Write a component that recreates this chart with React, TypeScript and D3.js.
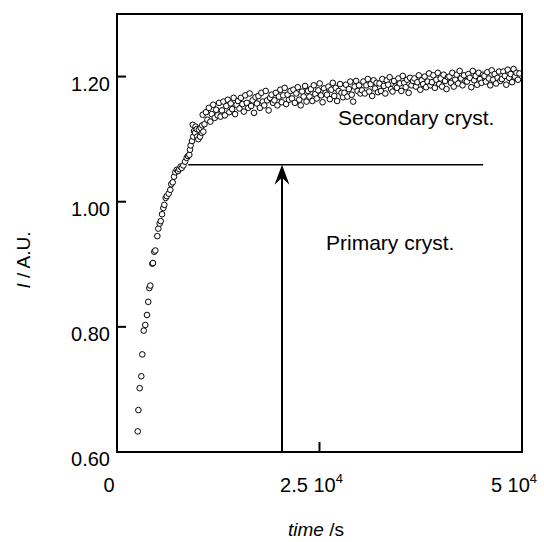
import React from "react";
import * as d3 from "d3";

// Intensity I (A.U.) against crystallisation time (s)

// Primary rise: [time s, intensity]
const rise: [number, number][] = [
  [2560, 0.633], [2640, 0.667], [2800, 0.702], [3000, 0.721], [3120, 0.756], [3300, 0.794],
  [3490, 0.803], [3700, 0.819], [3860, 0.84], [3990, 0.862], [4110, 0.866], [4360, 0.901],
  [4440, 0.902], [4600, 0.92], [4730, 0.922], [4980, 0.945], [5100, 0.957], [5270, 0.965],
  [5400, 0.969], [5560, 0.98], [5720, 0.99], [5840, 0.995], [6010, 1.006], [6140, 1.009],
  [6380, 1.013], [6580, 1.019], [6700, 1.028], [6880, 1.031], [7040, 1.04], [7200, 1.047],
  [7370, 1.051], [7530, 1.049], [7690, 1.052], [7850, 1.056], [7990, 1.054], [8190, 1.058],
  [8400, 1.064], [8600, 1.07], [8760, 1.073], [8930, 1.075], [9010, 1.083], [9090, 1.09],
  [9260, 1.097], [9350, 1.123], [9420, 1.104], [9520, 1.113], [9630, 1.11], [9700, 1.12],
  [9840, 1.116], [9900, 1.104], [10040, 1.1], [10100, 1.115], [10250, 1.104], [10330, 1.118],
  [10460, 1.11], [10520, 1.122], [10580, 1.139], [10660, 1.112],
];

// Secondary (slow) stage sampling times, s
const plateauTimes = [
  10800, 10980, 11160, 11340, 11520, 11700, 11880, 12060, 12240, 12420, 12600, 12780,
  12960, 13140, 13320, 13500, 13680, 13860, 14040, 14220, 14400, 14580, 14760, 14940,
  15120, 15300, 15480, 15660, 15840, 16020, 16200, 16380, 16560, 16740, 16920, 17100,
  17280, 17460, 17640, 17820, 18000, 18180, 18360, 18540, 18720, 18900, 19080, 19260,
  19440, 19620, 19800, 19980, 20160, 20340, 20520, 20700, 20880, 21060, 21240, 21420,
  21600, 21780, 21960, 22140, 22320, 22500, 22680, 22860, 23040, 23220, 23400, 23580,
  23760, 23940, 24120, 24300, 24480, 24660, 24840, 25020, 25200, 25380, 25560, 25740,
  25920, 26100, 26280, 26460, 26640, 26820, 27000, 27180, 27360, 27540, 27720, 27900,
  28080, 28260, 28440, 28620, 28800, 28980, 29160, 29340, 29520, 29700, 29880, 30060,
  30240, 30420, 30600, 30780, 30960, 31140, 31320, 31500, 31680, 31860, 32040, 32220,
  32400, 32580, 32760, 32940, 33120, 33300, 33480, 33660, 33840, 34020, 34200, 34380,
  34560, 34740, 34920, 35100, 35280, 35460, 35640, 35820, 36000, 36180, 36360, 36540,
  36720, 36900, 37080, 37260, 37440, 37620, 37800, 37980, 38160, 38340, 38520, 38700,
  38880, 39060, 39240, 39420, 39600, 39780, 39960, 40140, 40320, 40500, 40680, 40860,
  41040, 41220, 41400, 41580, 41760, 41940, 42120, 42300, 42480, 42660, 42840, 43020,
  43200, 43380, 43560, 43740, 43920, 44100, 44280, 44460, 44640, 44820, 45000, 45180,
  45360, 45540, 45720, 45900, 46080, 46260, 46440, 46620, 46800, 46980, 47160, 47340,
  47520, 47700, 47880, 48060, 48240, 48420, 48600, 48780, 48960, 49140, 49320, 49500,
  49680,
];

// Secondary (slow) stage intensities, A.U.
const plateauIntensity = [
  1.124, 1.143, 1.131, 1.15, 1.128, 1.14, 1.155, 1.134, 1.147, 1.138, 1.158, 1.136,
  1.146, 1.16, 1.138, 1.153, 1.163, 1.143, 1.157, 1.148, 1.166, 1.14, 1.155, 1.161,
  1.149, 1.166, 1.156, 1.144, 1.17, 1.158, 1.15, 1.173, 1.153, 1.162, 1.142, 1.167,
  1.157, 1.169, 1.15, 1.174, 1.16, 1.154, 1.177, 1.162, 1.146, 1.166, 1.171, 1.158,
  1.162, 1.174, 1.154, 1.168, 1.179, 1.159, 1.17, 1.182, 1.156, 1.171, 1.163, 1.177,
  1.165, 1.179, 1.158, 1.173, 1.183, 1.163, 1.154, 1.176, 1.168, 1.185, 1.16, 1.177,
  1.168, 1.18, 1.161, 1.186, 1.172, 1.165, 1.178, 1.189, 1.17, 1.159, 1.181, 1.174,
  1.171, 1.184, 1.164, 1.179, 1.19, 1.169, 1.182, 1.161, 1.177, 1.188, 1.174, 1.167,
  1.174, 1.187, 1.168, 1.18, 1.192, 1.171, 1.16, 1.184, 1.193, 1.177, 1.186, 1.173,
  1.178, 1.192, 1.173, 1.186, 1.196, 1.176, 1.188, 1.169, 1.194, 1.181, 1.19, 1.175,
  1.189, 1.177, 1.196, 1.185, 1.173, 1.194, 1.187, 1.199, 1.18, 1.176, 1.193, 1.184,
  1.182, 1.197, 1.189, 1.177, 1.201, 1.19, 1.183, 1.195, 1.174, 1.198, 1.186, 1.193,
  1.197, 1.184, 1.191, 1.202, 1.179, 1.194, 1.188, 1.2, 1.183, 1.192, 1.205, 1.186,
  1.191, 1.202, 1.182, 1.195, 1.206, 1.188, 1.197, 1.184, 1.203, 1.193, 1.18, 1.199,
  1.2, 1.19, 1.206, 1.184, 1.195, 1.203, 1.189, 1.209, 1.197, 1.186, 1.202, 1.193,
  1.192, 1.204, 1.198, 1.183, 1.209, 1.194, 1.201, 1.187, 1.206, 1.196, 1.19, 1.203,
  1.201, 1.192, 1.207, 1.197, 1.186, 1.21, 1.195, 1.204, 1.189, 1.198, 1.208, 1.193,
  1.196, 1.208, 1.201, 1.187, 1.211, 1.198, 1.204, 1.191, 1.212, 1.2, 1.206, 1.195,
  1.205,
];

// Axis ticks
const xTicks = [0, 25000, 50000];
const xTickMantissa = ["0", "2.5", "5"];
const yTicks = [0.6, 0.8, 1.0, 1.2];

// End of primary crystallisation: level line and arrow
const primaryLevel = 1.059;
const levelStart = 8800;
const levelEnd = 45200;
const arrowTime = 20370;

const W = 544;
const H = 542;
const frame = { left: 117, top: 14, right: 522, bottom: 452 };
const FONT = "'Liberation Sans', Arial, Helvetica, sans-serif";

export default function App() {
  const x = d3.scaleLinear().domain([0, 50000]).range([frame.left, frame.right]);
  const y = d3.scaleLinear().domain([0.6, 1.3]).range([frame.bottom, frame.top]);

  const points: [number, number][] = [
    ...rise,
    ...(d3.zip(plateauTimes, plateauIntensity) as [number, number][]),
  ];

  const ax = x(arrowTime);
  const ay = y(primaryLevel);
  const head = `M${ax},${ay} L${ax - 7.5},${ay + 20} L${ax},${ay + 13} L${ax + 7.5},${ay + 20} Z`;

  return (
    <svg
      width={W}
      height={H}
      style={{ position: "absolute", left: 0, top: 0, display: "block", background: "#fff" }}
      fontFamily={FONT}
    >
      <rect x={0} y={0} width={W} height={H} fill="#fff" />

      {/* data */}
      <g fill="#fff" stroke="#000" strokeWidth={1}>
        {points.map(([t, v], i) => (
          <circle key={i} cx={x(t)} cy={y(v)} r={2.8} />
        ))}
      </g>

      {/* level of primary crystallisation and arrow */}
      <line
        x1={x(levelStart)}
        x2={x(levelEnd)}
        y1={ay}
        y2={ay}
        stroke="#000"
        strokeWidth={1.6}
      />
      <line x1={ax} x2={ax} y1={y(0.6)} y2={ay + 12} stroke="#000" strokeWidth={2} />
      <path d={head} fill="#000" />

      {/* frame */}
      <rect
        x={frame.left}
        y={frame.top}
        width={frame.right - frame.left}
        height={frame.bottom - frame.top}
        fill="none"
        stroke="#000"
        strokeWidth={2}
      />

      {/* y ticks */}
      {yTicks.map((v) => (
        <g key={v}>
          {v > 0.6 && (
            <line x1={frame.left} x2={frame.left + 9} y1={y(v)} y2={y(v)} stroke="#000" strokeWidth={2} />
          )}
          <text x={frame.left - 7} y={y(v) + 14} textAnchor="end" fontSize={20} fill="#000">
            {v.toFixed(2)}
          </text>
        </g>
      ))}

      {/* x ticks */}
      {xTicks.map((v, i) => (
        <g key={v}>
          {i === 1 && (
            <line x1={x(v)} x2={x(v)} y1={frame.bottom} y2={frame.bottom - 10} stroke="#000" strokeWidth={2} />
          )}
          <text x={x(v) - 8} y={492} textAnchor="middle" fontSize={20} fill="#000">
            {v === 0 ? (
              "0"
            ) : (
              <>
                <tspan>{xTickMantissa[i] + " 10"}</tspan>
                <tspan dy={-9} fontSize={13}>4</tspan>
              </>
            )}
          </text>
        </g>
      ))}

      {/* annotations */}
      <text x={338} y={125} fontSize={21} fill="#000">Secondary cryst.</text>
      <text x={326} y={250} fontSize={21} fill="#000">Primary cryst.</text>

      {/* axis titles */}
      <text x={316} y={536} textAnchor="middle" fontSize={19} fill="#000">
        <tspan fontStyle="italic">time</tspan>
        <tspan> /s</tspan>
      </text>
      <text
        transform="translate(30,260) rotate(-90)"
        textAnchor="middle"
        fontSize={19}
        fill="#000"
      >
        <tspan fontStyle="italic">I</tspan>
        <tspan> / A.U.</tspan>
      </text>
    </svg>
  );
}
